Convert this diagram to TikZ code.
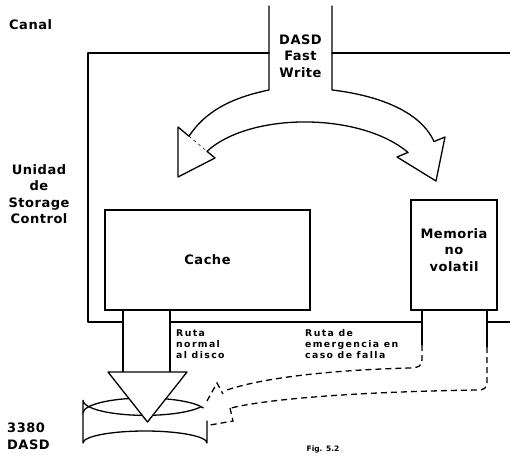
\documentclass[tikz,border=0pt]{standalone}
\usepackage{fontspec}
\newfontfamily\lblfont[LetterSpace=4]{DejaVu Sans}
\newfontfamily\notefont[LetterSpace=15]{DejaVu Sans}
\newfontfamily\figfont{DejaVu Sans}
\begin{document}
\begin{tikzpicture}[x=1pt,y=-1pt,
  wall/.style={line width=1.3pt, line join=round, line cap=round},
  emerg/.style={line width=1.3pt, dash pattern=on 6pt off 4pt},
  unitbox/.style={draw, line width=1.3pt, inner sep=0pt},
  big/.style={font=\lblfont\bfseries\fontsize{13}{16.5}\selectfont, inner sep=0pt, align=center},
  bigl/.style={big, align=left},
  note/.style={font=\notefont\bfseries\fontsize{9.3}{11.3}\selectfont, inner sep=0pt, align=left, anchor=west},
]
\useasboundingbox (0,0) rectangle (510,457);
\fill[white] (0,0) rectangle (510,457);

% storage control unit outline
\draw[wall] (269,53) -- (88,53) -- (88,322) -- (123,322);
\draw[wall] (332,53) -- (515,53);
\draw[wall] (170,322) -- (422,322);
\draw[wall] (487,322) -- (515,322);

% DASD Fast Write channel and the split arrow
\draw[wall] (269,6) -- (269,90) .. controls (230,98) and (205,112) .. (189,136.2);
\draw[wall] (332,6) -- (332,90) .. controls (375,95) and (420,110) .. (434,141.6);
\draw[wall] (207,151.3) .. controls (250,112) and (360,112) .. (408,152.4);
% left arrowhead
\draw[wall] (189,136.2) -- (178,127) -- (178,177) -- (215,158) -- (207,151.3);
\draw[line width=0.5pt, dash pattern=on 3pt off 3pt] (189,136.2) -- (207,151.3);
% right arrowhead
\draw[wall] (408,152.4) -- (397,157) -- (436,181) -- (445,137) -- (434,141.6);

% cache and non-volatile memory
\node[unitbox, minimum width=205pt, minimum height=100pt] (cache) at (207.5,260) {};
\node[unitbox, minimum width=86pt, minimum height=110pt] (mem) at (454,255) {};

% disk
\draw[wall] (201.2,406.7) arc[start angle=25, end angle=180, x radius=62, y radius=15]
            -- (83,443) arc[start angle=180, end angle=360, x radius=62, y radius=12]
            -- (207,421);
\draw[wall] (83,413) arc[start angle=180, end angle=340, x radius=62, y radius=15];

% normal path: cache to disk
\draw[wall] (123,310) -- (123,372);
\draw[wall] (170,310) -- (170,372);
\draw[wall, fill=white] (108,372) -- (187,372) -- (147.5,422) -- cycle;

% emergency path: memory to disk
\draw[wall] (422,310) -- (422,345);
\draw[wall] (487,310) -- (487,347);
\draw[emerg] (422,345) -- (422,360) .. controls (422,366) and (418,368) .. (410,368)
             .. controls (330,370) and (260,378) .. (224,391);
\draw[emerg] (487,347) -- (487,382) .. controls (487,388) and (484,390) .. (478,390)
             .. controls (400,391) and (280,396) .. (231,408);
\draw[emerg] (207,401) -- (217,383) -- (223,394);
\draw[emerg] (230,408) -- (233,421) -- (210,425);

% labels
\node[big, anchor=west] (canal) at (9,25) {Canal};
\node[big] (unidad) at (39,194) {Unidad\\de\\Storage\\Control};
\node[bigl, anchor=west] (dasd) at (7,436.5) {3380\\DASD};
\node[big] (fastwrite) at (300.5,56) {DASD\\Fast\\Write};
\node[big] (cachetext) at (cache.center) {Cache};
\node[big] (memtext) at (454,250) {Memoria\\no\\volatil};
\node[note] (normal) at (176,344) {Ruta\\normal\\al disco};
\node[note] (emergencia) at (305,344) {Ruta de\\emergencia en\\caso de falla};
\node[inner sep=0pt, font=\figfont\bfseries\fontsize{7.5}{9}\selectfont] (fig) at (323,449) {Fig. 5.2};
\end{tikzpicture}
\end{document}
